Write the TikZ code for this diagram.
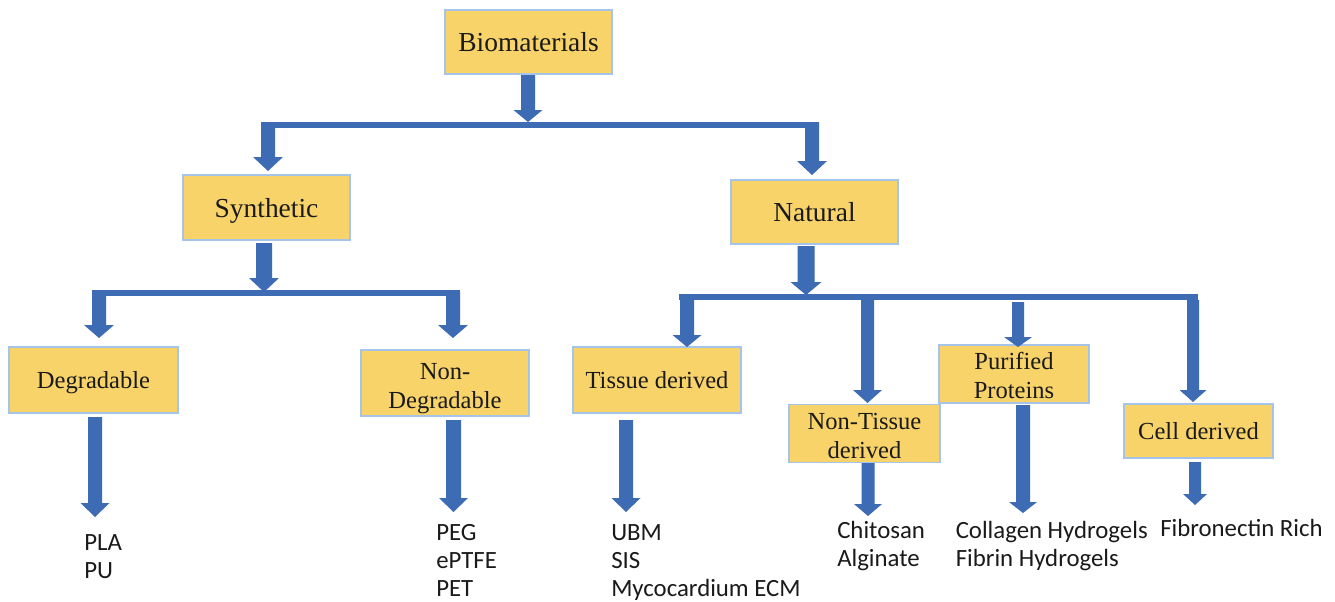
\documentclass[tikz,border=0pt]{standalone}
\usepackage{fontspec}
\setmainfont{Liberation Serif}
\newfontfamily\leaffont{Carlito}
\definecolor{boxfill}{HTML}{F7D36A}
\definecolor{boxline}{HTML}{A6C3E8}
\definecolor{arrowblue}{HTML}{3D6BB4}
\definecolor{textc}{HTML}{1A1A1A}
\tikzset{
  box/.style={draw=boxline, fill=boxfill, line width=1.3pt, inner sep=0pt, align=center, text=textc},
  big/.style={font=\fontsize{20.6}{23}\selectfont},
  mid/.style={font=\fontsize{18.4}{21.75}\selectfont},
  leaf/.style={font=\leaffont\fontsize{18.6}{21}\selectfont, align=left, anchor=west, inner sep=0pt, text=textc},
}
% block arrow: x, ytop, ytip, shaft width, head width, head length
\newcommand\blockarr[6]{%
  \fill[arrowblue] ({#1-#4/2},#2) -- ({#1+#4/2},#2) -- ({#1+#4/2},{#3-#6}) -- ({#1+#5/2},{#3-#6})
    -- (#1,#3) -- ({#1-#5/2},{#3-#6}) -- ({#1-#4/2},{#3-#6}) -- cycle;}
\newcommand\bx[7]{% name, cx, cy, w, h, style, text
  \node[box,#6,minimum width={#4*0.75pt},minimum height={#5*0.75pt}] (#1) at (#2,#3) {#7};}
\newcommand\shiftdown[2]{\raisebox{-#1}[\height][\depth]{#2}}
\newcommand\twolines[2]{\begin{tabular}{@{}c@{}}#1\\#2\end{tabular}}
\begin{document}
\begin{tikzpicture}[x=0.75pt,y=-0.75pt]
\useasboundingbox (0,0) rectangle (1335,601);
\fill[white] (0,0) rectangle (1335,601);

% boxes
\bx{bio}{528.5}{42}{167}{64}{big}{Biomaterials}
\bx{syn}{266.5}{207.5}{167}{65}{big}{\shiftdown{2.2pt}{Synthetic}}
\bx{nat}{814.5}{212}{167}{64}{big}{Natural}
\bx{deg}{93.5}{380}{169}{66}{mid}{\shiftdown{2.2pt}{Degradable}}
\bx{ndeg}{445}{383}{168}{66}{mid}{\shiftdown{4.2pt}{\twolines{Non-}{Degradable}}}
\bx{tis}{657}{380}{168}{66}{mid}{Tissue derived}
\bx{ntis}{864.5}{433.5}{151}{55}{mid}{\shiftdown{3.6pt}{\twolines{Non-Tissue}{derived}}}
\bx{pur}{1014}{374}{150}{54}{mid}{\shiftdown{2.8pt}{\twolines{Purified}{Proteins}}}
\bx{cell}{1198.5}{431}{149}{54}{mid}{Cell derived}

% bars
\fill[arrowblue] (261,122) rectangle (819,128);
\fill[arrowblue] (92,290) rectangle (460,296);
\fill[arrowblue] (679,294) rectangle (1198,300);

% arrows level 1
\blockarr{528}{75}{122}{14}{29}{12}
\blockarr{268}{122}{171}{14}{30}{14}
\blockarr{812}{122}{175}{14}{30}{14}
% synthetic branch
\blockarr{264}{243}{292}{16}{30}{14}
\blockarr{99}{292}{338}{14}{30}{13}
\blockarr{453}{292}{338}{14}{30}{13}
% natural branch
\blockarr{806}{246}{295}{17}{31}{13}
\blockarr{687}{300}{347}{14}{29}{12}
\blockarr{867.5}{300}{403}{13}{29}{13}
\blockarr{1018}{302}{347}{12}{28}{10}
\blockarr{1193}{300}{402}{12}{27}{12}
% leaves arrows
\blockarr{95}{417}{517}{14}{29}{14}
\blockarr{453.5}{420}{512}{15}{29}{14}
\blockarr{626}{420}{512}{14}{29}{14}
\blockarr{868}{463}{516}{13}{28}{12}
\blockarr{1023}{405}{513}{14}{28}{11}
\blockarr{1195}{462}{505}{12}{24}{11}

% leaf texts
\node[leaf] (pla) at (84,556.5) {PLA\\PU};
\node[leaf] (peg) at (436,560) {PEG\\ePTFE\\PET};
\node[leaf] (ubm) at (611,562.5) {UBM\\SIS\\Mycocardium ECM};
\node[leaf] (chi) at (837,546) {Chitosan\\Alginate};
\node[leaf] (col) at (955.5,546) {Collagen Hydrogels\\Fibrin Hydrogels};
\node[leaf] (fib) at (1160,528) {Fibronectin Rich};
\end{tikzpicture}
\end{document}
